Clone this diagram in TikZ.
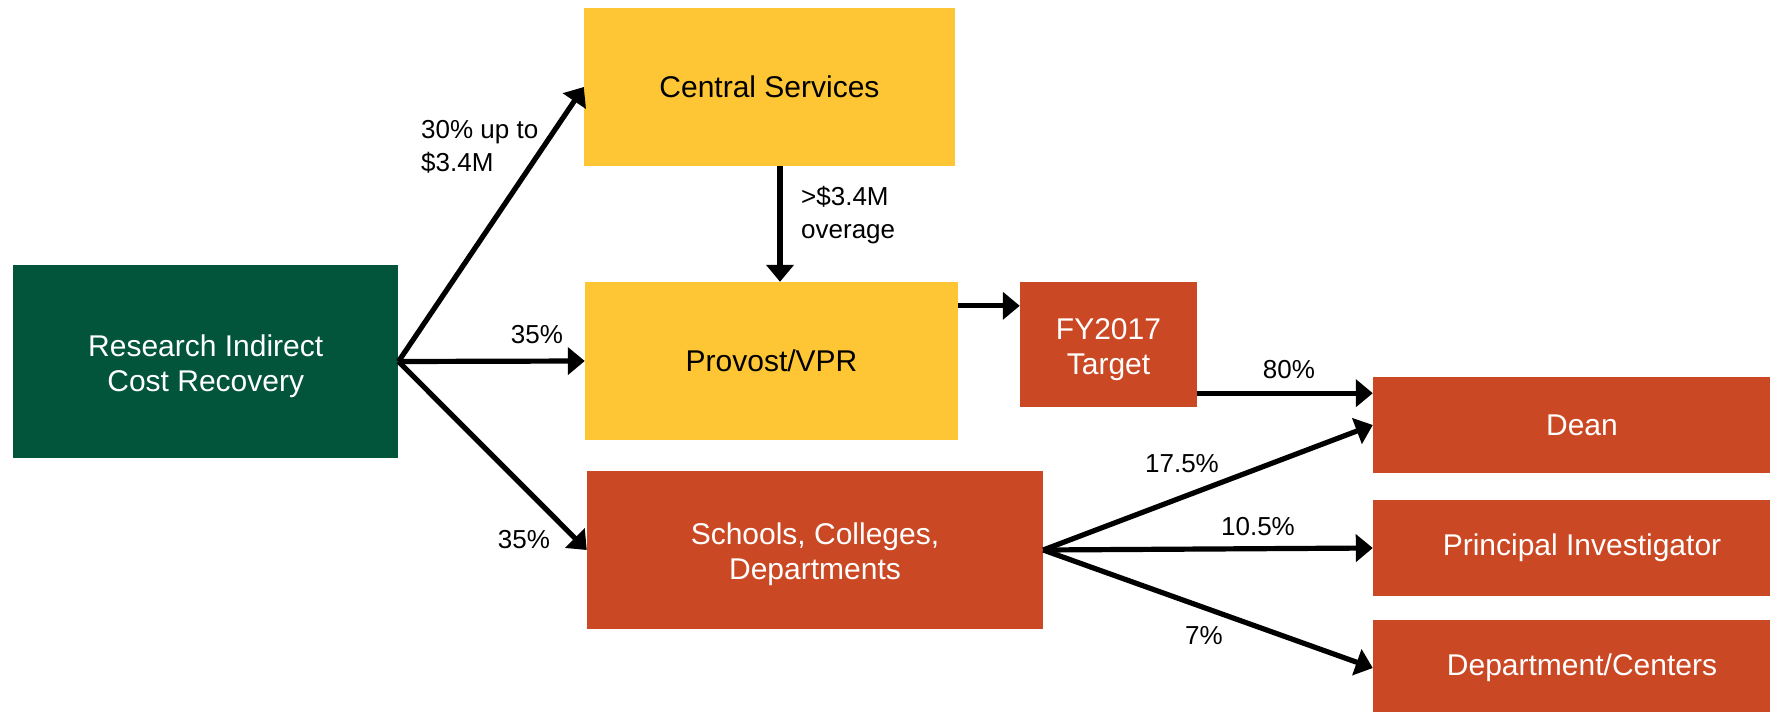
\documentclass[tikz,border=0pt]{standalone}
\usepackage{fontspec}
\setmainfont{Liberation Sans}
\usetikzlibrary{arrows.meta,calc}
\definecolor{cgreen}{RGB}{2,84,58}
\definecolor{cyellow}{RGB}{254,198,52}
\definecolor{cred}{RGB}{202,72,36}
\newcommand{\mystrut}{\rule{0pt}{31pt}}
\begin{document}
\begin{tikzpicture}[x=1pt,y=-1pt,
 box/.style={draw=none, inner sep=0pt, align=center, font=\fontsize{30}{35}\selectfont},
 greenbox/.style={box, fill=cgreen, text=white},
 yellowbox/.style={box, fill=cyellow, text=black},
 redbox/.style={box, fill=cred, text=white},
 lbl/.style={inner sep=0pt, font=\fontsize{26}{33}\selectfont, align=left},
 arr/.style={line width=5.2pt, -{Triangle[length=17pt,width=27pt]}},
]
\useasboundingbox (0,0) rectangle (1770,712);
\node[greenbox, minimum width=385pt, minimum height=193pt] (ricr) at (205.75,361.5) {\mystrut Research Indirect\\Cost Recovery};
\node[yellowbox, minimum width=371pt, minimum height=158pt] (central) at (769.5,87) {Central Services};
\node[yellowbox, minimum width=373pt, minimum height=158pt] (provost) at (771.5,361) {Provost/VPR};
\node[redbox, minimum width=456pt, minimum height=158pt] (schools) at (815,550) {\mystrut Schools, Colleges,\\Departments};
\node[redbox, minimum width=177pt, minimum height=125pt] (fy) at (1108.5,344.5) {\mystrut FY2017\\Target};
\node[redbox, minimum width=418pt, minimum height=96pt] (dean) at (1582,425) {Dean};
\node[redbox, minimum width=418pt, minimum height=96pt] (pi) at (1582,548) {Principal Investigator};
\node[redbox, minimum width=418pt, minimum height=96pt] (dept) at (1582,668) {Department/Centers};

\draw[arr] (ricr.east) -- (central.west);
\draw[arr] (ricr.east) -- (provost.west);
\draw[arr] (ricr.east) -- (schools.west);
\coordinate (ca) at ($(central.south)+(10.5,0)$);
\draw[arr] (ca) -- (ca |- provost.north);
\coordinate (pa) at ($(provost.north east)+(0,24)$);
\draw[arr] (pa) -- (pa -| fy.west);
\coordinate (fa) at ($(fy.south east)+(0,-14)$);
\draw[arr] (fa) -- (fa -| dean.west);
\draw[arr] (schools.east) -- (dean.west);
\draw[arr] (schools.east) -- (pi.west);
\draw[arr] (schools.east) -- (dept.west);

\node[lbl, anchor=west] (l1) at (421,147) {30\% up to\\\$3.4M};
\node[lbl, anchor=west] (l2) at (801,215) {>\$3.4M\\overage};
\node[lbl] (l3) at (537,335) {35\%};
\node[lbl] (l4) at (524,540) {35\%};
\node[lbl] (l5) at (1289,370) {80\%};
\node[lbl] (l6) at (1182,464) {17.5\%};
\node[lbl] (l7) at (1258,527) {10.5\%};
\node[lbl] (l8) at (1204,636) {7\%};
\end{tikzpicture}
\end{document}
